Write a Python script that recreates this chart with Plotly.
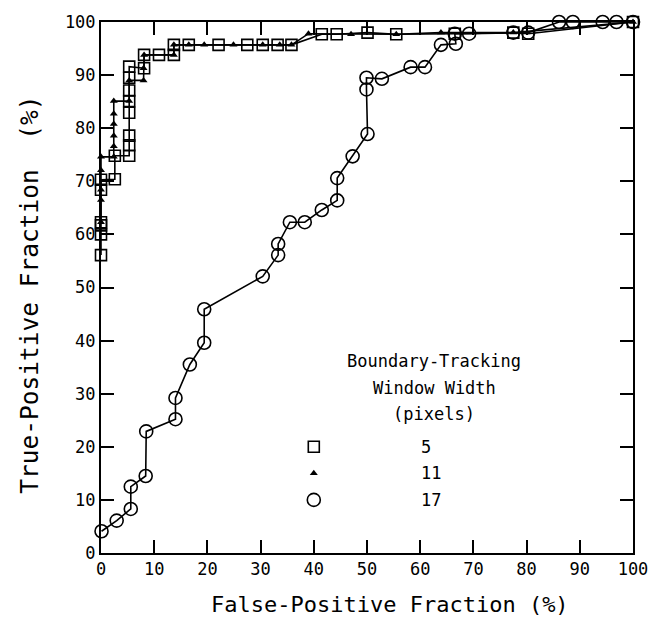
import plotly.graph_objects as go

# Window width 5 pixels (open squares)
x5 = [0, 0, 0, 0, 0, 0, 2.6, 2.6, 5.3, 5.3, 5.3, 5.3, 5.3, 5.3, 5.3, 5.3, 8.1, 8.1, 10.9, 13.7,
      13.7, 16.5, 22.1, 27.5, 30.4, 33.2, 35.8, 41.5, 44.3, 50.1, 55.5, 66.5, 77.5, 80.3, 100]
y5 = [56.1, 60.0, 61.7, 62.3, 68.4, 70.3, 70.4, 74.8, 74.8, 76.8, 78.6, 82.9, 85.1, 87.1, 89.5, 91.6, 91.3, 93.8, 93.8, 93.8,
      95.7, 95.7, 95.7, 95.7, 95.7, 95.7, 95.7, 97.7, 97.7, 98.0, 97.7, 97.8, 98.0, 97.8, 100]

# Window width 11 pixels (filled triangles)
x11 = [0, 0, 0, 0, 0, 2.4, 2.4, 2.4, 2.4, 2.4, 2.4, 5.3, 5.3, 8.0, 8.0, 8.1, 13.7, 13.7, 16.5, 19.4,
       24.9, 30.4, 33.6, 35.8, 39.0, 47.0, 55.5, 63.9, 77.5, 100]
y11 = [62.3, 66.5, 68.4, 72.1, 74.6, 74.6, 76.6, 78.6, 80.8, 82.7, 85.1, 85.1, 89.0, 89.0, 91.3, 93.8, 93.8, 95.7, 95.7, 95.7,
       95.7, 95.7, 95.7, 95.7, 97.8, 97.7, 97.7, 98.0, 98.0, 100]

# Window width 17 pixels (open circles)
x17 = [0.1, 2.95, 5.6, 5.6, 8.4, 8.5, 14.0, 14.0, 16.7, 19.4, 19.4, 30.4, 33.3, 33.3, 35.5, 38.3, 41.5, 44.4, 44.4,
       47.3, 50.1, 49.9, 49.9, 52.8, 58.2, 60.9, 63.9, 66.7, 66.5, 69.2, 77.5, 80.3, 86.1, 88.7, 94.3, 96.9, 100]
y17 = [4.1, 6.1, 8.3, 12.5, 14.5, 22.9, 25.2, 29.2, 35.5, 39.6, 45.9, 52.1, 56.1, 58.2, 62.3, 62.3, 64.6, 66.4, 70.6,
       74.7, 78.9, 87.3, 89.5, 89.3, 91.5, 91.5, 95.7, 95.9, 97.8, 97.8, 98.0, 98.0, 100, 100, 100, 100, 100]

legend_labels = ["5", "11", "17"]
legend_title = ["Boundary-Tracking", "Window Width", "(pixels)"]
tick_vals = list(range(0, 101, 10))

MONO = "DejaVu Sans Mono"
fig = go.Figure()

line = dict(color="black", width=1.6)
fig.add_trace(go.Scatter(x=x17, y=y17, mode="lines+markers", line=line, cliponaxis=False,
                         marker=dict(symbol="circle-open", size=13, color="black", line=dict(width=1.6))))
fig.add_trace(go.Scatter(x=x5, y=y5, mode="lines+markers", line=line, cliponaxis=False,
                         marker=dict(symbol="square-open", size=11, color="black", line=dict(width=1.6))))
fig.add_trace(go.Scatter(x=x11, y=y11, mode="lines+markers", line=line, cliponaxis=False,
                         marker=dict(symbol="triangle-up", size=7, color="black")))

# legend key markers
leg_y = [20, 15, 10]
fig.add_trace(go.Scatter(x=[40], y=[leg_y[0]], mode="markers", cliponaxis=False,
                         marker=dict(symbol="square-open", size=11, color="black", line=dict(width=1.6))))
fig.add_trace(go.Scatter(x=[40], y=[leg_y[1]], mode="markers", cliponaxis=False,
                         marker=dict(symbol="triangle-up", size=7, color="black")))
fig.add_trace(go.Scatter(x=[40], y=[leg_y[2]], mode="markers", cliponaxis=False,
                         marker=dict(symbol="circle-open", size=13, color="black", line=dict(width=1.6))))

for lab, yy in zip(legend_labels, leg_y):
    fig.add_annotation(x=59.8, y=yy, text=lab, showarrow=False, xanchor="left", yanchor="middle",
                       font=dict(family=MONO, size=17, color="black"))
for t, yy in zip(legend_title, [36.2, 31.0, 26.1]):
    fig.add_annotation(x=62.6, y=yy, text=t, showarrow=False, xanchor="center", yanchor="middle",
                       font=dict(family=MONO, size=17, color="black"))

fig.add_annotation(x=0.544, y=-0.097, xref="paper", yref="paper", text="False-Positive Fraction (%)",
                   showarrow=False, xanchor="center", yanchor="middle",
                   font=dict(family=MONO, size=22, color="black"))
fig.add_annotation(x=-0.135, y=0.4865, xref="paper", yref="paper", text="True-Positive Fraction  (%)",
                   showarrow=False, xanchor="center", yanchor="middle", textangle=-90,
                   font=dict(family=MONO, size=24.5, color="black"))

axis = dict(range=[0, 100], tickvals=tick_vals, ticktext=[str(v) for v in tick_vals],
            showline=True, linecolor="black", linewidth=2, mirror="ticks",
            ticks="inside", ticklen=13, tickwidth=1.5, tickcolor="black",
            showgrid=False, zeroline=False,
            tickfont=dict(family=MONO, size=17, color="black"))

fig.update_layout(
    width=662, height=619, showlegend=False,
    margin=dict(l=101, r=29, t=15, b=66),
    paper_bgcolor="white", plot_bgcolor="white",
    xaxis=axis, yaxis=axis,
)
fig.write_html("out.html")
